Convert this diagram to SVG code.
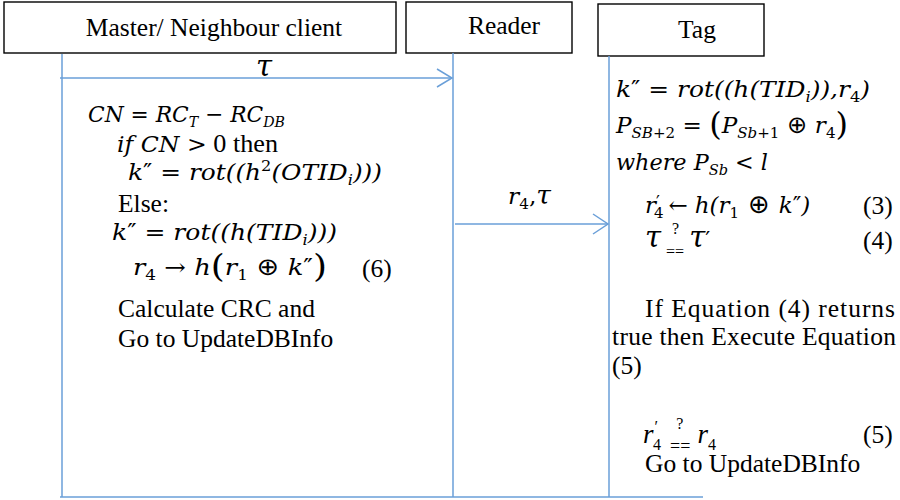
<svg xmlns="http://www.w3.org/2000/svg" width="900" height="500" viewBox="0 0 900 500">
  <defs>
    <style>
      .box { fill: #ffffff; stroke: #000000; stroke-width: 1.4; }
      .life { stroke: #6a9fd8; stroke-width: 1.5; fill: none; }
      .head { stroke: #6a9fd8; stroke-width: 1.5; fill: none; }
      .t { font-family: "Liberation Serif", "Times New Roman", serif; font-size: 25.5px; fill: #000; }
      .ti { font-family: "Liberation Serif", "Times New Roman", serif; font-size: 25.5px; font-style: italic; fill: #000; }
      .title { font-family: "Liberation Serif", "Times New Roman", serif; font-size: 25.5px; fill: #000; text-anchor: middle; }
      .m { font-family: "DejaVu Serif", serif; font-style: italic; font-size: 23px; fill: #000; }
      .tau { font-family: "DejaVu Serif", serif; font-style: italic; font-size: 29px; }
      .u { font-style: normal; }
      .pr { font-family: "DejaVu Sans", sans-serif; font-style: normal; }
      .op { font-family: "DejaVu Sans", sans-serif; font-style: normal; font-size: 24px; }
      .sub { font-size: 15px; font-style: normal; }
      .subi { font-size: 15px; }
      .big { font-size: 32px; font-style: normal; }
      .sm { font-family: "Liberation Serif", "Times New Roman", serif; font-size: 16px; font-style: normal; }
    </style>
  </defs>

  <rect width="900" height="500" fill="#ffffff"/>

  <!-- participants -->
  <g id="master">
    <rect class="box" x="4" y="2" width="392" height="51"/>
    <text class="title" x="214" y="36">Master/ Neighbour client</text>
  </g>
  <g id="reader">
    <rect class="box" x="406" y="2" width="166" height="51"/>
    <text class="title" x="504" y="34">Reader</text>
  </g>
  <g id="tag">
    <rect class="box" x="598" y="4" width="166" height="52"/>
    <text class="title" x="697" y="38">Tag</text>
  </g>

  <!-- lifelines, messages and closing rule -->
  <g id="connectors">
    <line class="life" x1="62" y1="54" x2="62" y2="497"/>
    <line class="life" x1="453" y1="53" x2="453" y2="497"/>
    <line class="life" x1="609" y1="56" x2="609" y2="497"/>
    <line class="life" x1="60" y1="497" x2="703" y2="497"/>

    <line class="life" x1="60" y1="78" x2="452" y2="78"/>
    <polyline class="head" points="437,69 452,78 437,87"/>
    <text class="m tau" x="256" y="76">τ</text>

    <line class="life" x1="455" y1="224" x2="608" y2="224"/>
    <polyline class="head" points="593,214 608,224 593,234"/>
    <text class="m" x="508" y="204" textLength="43" lengthAdjust="spacingAndGlyphs">r<tspan class="sub" dy="5">4</tspan><tspan dy="-5" class="u">,</tspan><tspan style="font-size:26px">τ</tspan></text>
  </g>

  <!-- master / neighbour client computation -->
  <g id="master-notes">
    <text class="m" x="88" y="122" textLength="197" lengthAdjust="spacingAndGlyphs">CN <tspan class="u">=</tspan> RC<tspan class="subi" dy="5">T</tspan><tspan dy="-5" class="u"> − </tspan>RC<tspan class="subi" dy="5">DB</tspan></text>
    <text class="m" x="117" y="152" textLength="161" lengthAdjust="spacingAndGlyphs">if CN <tspan class="u">&gt;</tspan><tspan class="t" style="font-style:normal"> 0 then</tspan></text>
    <text class="m" x="128" y="180" textLength="254" lengthAdjust="spacingAndGlyphs">k<tspan class="pr">″</tspan> <tspan class="u">=</tspan> rot((h<tspan class="sub" dy="-9">2</tspan><tspan dy="9">(OTID</tspan><tspan class="subi" dy="5">i</tspan><tspan dy="-5">)))</tspan></text>
    <text class="t" x="118" y="212">Else:</text>
    <text class="m" x="112" y="240" textLength="225" lengthAdjust="spacingAndGlyphs">k<tspan class="pr">″</tspan> <tspan class="u">=</tspan> rot((h(TID<tspan class="subi" dy="5">i</tspan><tspan dy="-5">)))</tspan></text>
    <text class="m" x="133" y="275" textLength="194" lengthAdjust="spacingAndGlyphs">r<tspan class="sub" dy="5">4</tspan><tspan dy="-5" class="u"> → </tspan>h<tspan class="big" dy="2">(</tspan><tspan dy="-2">r</tspan><tspan class="sub" dy="5">1</tspan><tspan dy="-5" class="op"> ⊕ </tspan>k<tspan class="pr">″</tspan><tspan class="big" dy="2">)</tspan></text>
    <text class="t" x="362" y="277">(6)</text>
    <text class="t" x="118" y="317">Calculate CRC and</text>
    <text class="t" x="118" y="347">Go to UpdateDBInfo</text>
  </g>

  <!-- tag computation -->
  <g id="tag-notes">
    <text class="m" x="616" y="97" textLength="254" lengthAdjust="spacingAndGlyphs">k<tspan class="pr">″</tspan> <tspan class="u">=</tspan> rot((h(TID<tspan class="subi" dy="5">i</tspan><tspan dy="-5">)),r</tspan><tspan class="sub" dy="5">4</tspan><tspan dy="-5">)</tspan></text>
    <text class="m" x="616" y="133" textLength="232" lengthAdjust="spacingAndGlyphs">P<tspan class="subi" dy="5">SB</tspan><tspan class="sub">+2</tspan><tspan dy="-5" class="u"> = </tspan><tspan class="big" dy="2">(</tspan><tspan dy="-2">P</tspan><tspan class="subi" dy="5">Sb</tspan><tspan class="sub">+1</tspan><tspan dy="-5" class="op"> ⊕ </tspan>r<tspan class="sub" dy="5">4</tspan><tspan class="big" dy="-3">)</tspan></text>
    <text class="m" x="616" y="170" textLength="152" lengthAdjust="spacingAndGlyphs">where P<tspan class="subi" dy="5">Sb</tspan><tspan dy="-5" class="u"> &lt; </tspan>l</text>

    <!-- r4' <- h(r1 (+) k'')   (3) -->
    <text class="m" x="645" y="213">r<tspan class="pr" style="font-size:17px" dy="-5">′</tspan><tspan class="sub" dx="-6" dy="10">4</tspan><tspan dy="-5" dx="5" class="u">←</tspan><tspan dx="7">h(r</tspan><tspan class="sub" dy="5">1</tspan><tspan dy="-5" dx="9" class="op" style="font-size:26px">⊕</tspan><tspan dx="9">k</tspan><tspan class="pr">″</tspan>)</text>
    <text class="t" x="863" y="214">(3)</text>

    <!-- tau ?== tau'   (4) -->
    <text class="m" x="645" y="247"><tspan class="tau">τ</tspan><tspan class="sm" dx="5" dy="10">==</tspan><tspan class="sm" dx="-12" dy="-23">?</tspan><tspan class="tau" dx="10" dy="13">τ</tspan><tspan class="pr" style="font-size:22px">′</tspan></text>
    <text class="t" x="863" y="249">(4)</text>

    <text class="t" x="645" y="317" textLength="250" lengthAdjust="spacing">If Equation (4) returns</text>
    <text class="t" x="612" y="345" textLength="284" lengthAdjust="spacing">true then Execute Equation</text>
    <text class="t" x="612" y="374">(5)</text>

    <!-- r4' ?== r4   (5) -->
    <text class="ti" x="643" y="443" style="font-size:27px">r<tspan class="sm" dx="1" dy="-11">′</tspan><tspan class="sm" dx="-5" dy="18">4</tspan><tspan class="sm" style="font-size:18px" dx="9" dy="2">==</tspan><tspan class="sm" dx="-14" dy="-23">?</tspan><tspan dx="14" dy="14">r</tspan><tspan class="sm" dy="7">4</tspan></text>
    <text class="t" x="863" y="443">(5)</text>
    <text class="t" x="645" y="472">Go to UpdateDBInfo</text>
  </g>
</svg>
